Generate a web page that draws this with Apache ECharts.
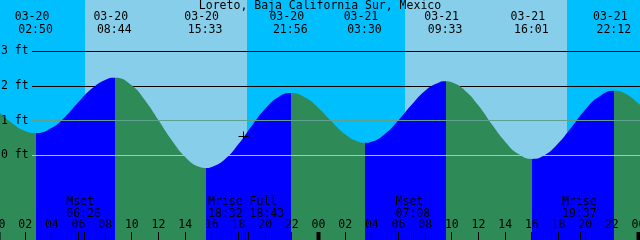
<!DOCTYPE html>
<html><head><meta charset="utf-8">
<script src="https://cdn.jsdelivr.net/npm/echarts@6/dist/echarts.min.js"></script>
<style>html,body{margin:0;padding:0;background:#fff}#c{width:640px;height:240px}</style>
</head><body><div id="c"></div>
<script>
// ---------------- data ----------------
const title = "Loreto, Baja California Sur, Mexico";

// high / low tide events
const extremeDates = ["03-20", "03-20", "03-20", "03-20", "03-21", "03-21", "03-21", "03-21"];
const extremeTimes = ["02:50", "08:44", "15:33", "21:56", "03:30", "09:33", "16:01", "22:12"];
const extremeKinds = ["L", "H", "L", "H", "L", "H", "L", "H"];
const extremeFeet  = [0.65, 2.24, -0.36, 1.80, 0.37, 2.14, -0.10, 1.87];

// hourly readings of the curve (hours since 03-20 00:00, feet)
const readingHours = [0, 1, 2, 4, 5, 6, 7, 8, 10, 11, 12, 13, 14, 15, 16, 17, 18, 19, 20, 21,
                      23, 24, 25, 26, 27, 28, 29, 30, 31, 32, 33, 34, 35, 36, 37, 38, 39,
                      41, 42, 43, 44, 45, 47, 48, 49];
const readingFeet  = [1.27, 0.94, 0.71, 0.80, 1.12, 1.54, 1.93, 2.18, 2.02, 1.59, 1.02, 0.44, -0.04, -0.32, -0.33, -0.10, 0.33, 0.86, 1.35, 1.69,
                      1.67, 1.37, 0.97, 0.61, 0.40, 0.40, 0.63, 1.02, 1.47, 1.87, 2.10, 2.11, 1.87, 1.44, 0.90, 0.40, 0.04,
                      0.02, 0.36, 0.83, 1.32, 1.69, 1.79, 1.50, 1.15];

// sun
const sunriseTimes = ["03-20 06:31", "03-21 06:31"];
const sunsetTimes  = ["03-20 18:36", "03-21 18:38"];

// moon events
const moonEventNames = ["Mset", "Mrise", "Full", "Mset", "Mrise"];
const moonEventTimes = ["03-20 06:26", "03-20 18:32", "03-20 18:43", "03-21 07:08", "03-21 19:37"];

// axes
const depthLevels = [0, 1, 2, 3];
const depthUnit = "ft";
const datumFeet = 0;
const mslFeet = 1;
const hourTicks = [0, 2, 4, 6, 8, 10, 12, 14, 16, 18, 20, 22, 24, 26, 28, 30, 32, 34, 36, 38, 40, 42, 44, 46, 48];

// current time marker
const nowTime = "03-20 18:22";
const nowFeet = 0.56;

// ---------------- helpers ----------------
const toHours = s => {
  const [md, hm] = s.split(' ');
  const d = +md.split('-')[1];
  const [H, M] = hm.split(':').map(Number);
  return (d - 20) * 24 + H + M / 60;
};
const FONT = '"DejaVu Sans Mono", monospace';
const FS = 11.5;
const NIGHT = '#00BFFF', DAY = '#87CEEB', RISING = '#0000FF', FALLING = '#2E8B57';
const DATUM_COLOR = '#87CEEB', MSL_COLOR = '#5FA08F';

const xMin = 0.1125, xMax = 48.1125;
const yMin = -2.4375, yMax = 4.4856;

const extremeHours = extremeDates.map((d, i) => toHours(d + ' ' + extremeTimes[i]));
const tideData = readingHours.map((h, i) => [h, readingFeet[i]])
  .concat(extremeHours.map((h, i) => [h, extremeFeet[i]]))
  .sort((a, b) => a[0] - b[0]);

const pieces = [];
extremeHours.forEach((h, i) => {
  const prev = i === 0 ? null : extremeHours[i - 1];
  const colBefore = extremeKinds[i] === 'L' ? FALLING : RISING;
  pieces.push(prev === null ? { lt: h, color: colBefore } : { gte: prev, lt: h, color: colBefore });
});
pieces.push({ gte: extremeHours[extremeHours.length - 1], color: extremeKinds[extremeKinds.length - 1] === 'L' ? RISING : FALLING });

const dayBands = sunriseTimes.map((s, i) => [toHours(s), toHours(sunsetTimes[i])]);

// group moon events that are close together into one label
const moonHours = moonEventTimes.map(toHours);
const moonGroups = [];
moonHours.forEach((h, i) => {
  const g = moonGroups[moonGroups.length - 1];
  if (g && h - g.hours[g.hours.length - 1] < 0.5) { g.hours.push(h); g.names.push(moonEventNames[i]); g.times.push(moonEventTimes[i].split(' ')[1]); }
  else moonGroups.push({ hours: [h], names: [moonEventNames[i]], times: [moonEventTimes[i].split(' ')[1]] });
});
const moonLabelData = moonGroups.map(g => [(g.hours[0] + g.hours[g.hours.length - 1]) / 2, 0]);

const crisp = v => Math.floor(v) + 0.5;
const txt = (text, x, y, align) => ({
  type: 'text', x, y,
  style: { text, fill: '#000', fontFamily: FONT, fontSize: FS, align: align || 'center', verticalAlign: 'middle' }
});

const chart = echarts.init(document.getElementById('c'), null, { renderer: 'canvas' });
chart.setOption({
  animation: false,
  grid: { left: 0, right: 0, top: 0, bottom: 0, show: true, backgroundColor: NIGHT, borderWidth: 0 },
  xAxis: { type: 'value', min: xMin, max: xMax, show: false },
  yAxis: { type: 'value', min: yMin, max: yMax, show: false },
  visualMap: { type: 'piecewise', show: false, dimension: 0, seriesIndex: 2, pieces },
  series: [
    { // daylight bands
      type: 'custom', z: 1, data: dayBands, encode: { x: [0, 1] },
      renderItem: (params, api) => {
        const cs = params.coordSys;
        const x1 = Math.round(api.coord([api.value(0), 0])[0]);
        const x2 = Math.round(api.coord([api.value(1), 0])[0]);
        return { type: 'rect', shape: { x: x1, y: cs.y, width: x2 - x1, height: cs.height }, style: { fill: DAY } };
      }
    },
    { // depth lines (under the water)
      type: 'custom', z: 2, data: depthLevels.map(v => [xMin, v]),
      renderItem: (params, api) => {
        const cs = params.coordSys;
        const y = crisp(api.coord([xMin, api.value(1)])[1]);
        return { type: 'line', shape: { x1: cs.x + 32, y1: y, x2: cs.x + cs.width, y2: y }, style: { stroke: '#000', lineWidth: 1 } };
      }
    },
    { // tide water
      type: 'line', z: 3, data: tideData, smooth: 0.5, showSymbol: false,
      lineStyle: { width: 0 }, areaStyle: { opacity: 1, origin: 'start' }
    },
    { // datum and mean sea level lines
      type: 'custom', z: 4, data: [[xMin, datumFeet], [xMin, mslFeet]],
      renderItem: (params, api) => {
        const cs = params.coordSys;
        const v = api.value(1);
        const y = crisp(api.coord([xMin, v])[1]);
        return { type: 'line', shape: { x1: cs.x + 32, y1: y, x2: cs.x + cs.width, y2: y }, style: { stroke: v === datumFeet ? DATUM_COLOR : MSL_COLOR, lineWidth: 1 } };
      }
    },
    { // depth labels
      type: 'custom', z: 5, data: depthLevels.map(v => [xMin, v]),
      renderItem: (params, api) => {
        const cs = params.coordSys;
        const y = api.coord([xMin, api.value(1)])[1];
        return txt(api.value(1) + ' ' + depthUnit, cs.x + 1, y, 'left');
      }
    },
    { // high/low labels at top
      type: 'custom', z: 5, data: extremeHours.map((h, i) => [h, extremeFeet[i]]),
      renderItem: (params, api) => {
        const i = params.dataIndex;
        const x = api.coord([api.value(0), 0])[0] - 0.7;
        return { type: 'group', children: [txt(extremeDates[i], x - 3.5, 17.5), txt(extremeTimes[i], x, 29.8)] };
      }
    },
    { // title
      type: 'custom', z: 5, data: [[xMin, 0]],
      renderItem: (params) => txt(title, params.coordSys.x + params.coordSys.width / 2, 6)
    },
    { // hour ticks and labels
      type: 'custom', z: 5, data: hourTicks.map(h => [h, 0]),
      renderItem: (params, api) => {
        const cs = params.coordSys;
        const h = api.value(0);
        const xr = api.coord([h, 0])[0];
        const midnight = h % 24 === 0;
        const x = midnight ? xr : crisp(xr);
        const bottom = cs.y + cs.height;
        const label = String(h % 24).padStart(2, '0');
        return { type: 'group', children: [
          { type: 'line', shape: { x1: x, y1: bottom - 8, x2: x, y2: bottom }, style: { stroke: '#000', lineWidth: midnight ? 4 : 1 } },
          txt(label, xr, 225.5)
        ] };
      }
    },
    { // moon event ticks
      type: 'custom', z: 5, data: moonHours.map(h => [h, 0]),
      renderItem: (params, api) => {
        const cs = params.coordSys;
        const x = crisp(api.coord([api.value(0), 0])[0]);
        const bottom = cs.y + cs.height;
        return { type: 'line', shape: { x1: x, y1: bottom - 8, x2: x, y2: bottom }, style: { stroke: '#000', lineWidth: 1 } };
      }
    },
    { // moon labels
      type: 'custom', z: 5, data: moonLabelData,
      renderItem: (params, api) => {
        const g = moonGroups[params.dataIndex];
        const l1 = g.names.join(' '), l2 = g.times.join(' ');
        const n = Math.max(l1.length, l2.length);
        const x = api.coord([api.value(0), 0])[0] - 0.7;
        return { type: 'group', children: [txt(l1.padEnd(n, ' '), x, 202), txt(l2.padEnd(n, ' '), x, 213.8)] };
      }
    },
    { // current time marker
      type: 'custom', z: 6, data: [[toHours(nowTime), nowFeet]],
      renderItem: (params, api) => {
        const p = api.coord([api.value(0), api.value(1)]);
        const x = crisp(p[0]), y = crisp(p[1]);
        return { type: 'group', children: [
          { type: 'line', shape: { x1: x - 5, y1: y, x2: x + 5, y2: y }, style: { stroke: '#000', lineWidth: 1 } },
          { type: 'line', shape: { x1: x, y1: y - 5, x2: x, y2: y + 5 }, style: { stroke: '#000', lineWidth: 1 } }
        ] };
      }
    }
  ]
});
</script>
</body></html>
